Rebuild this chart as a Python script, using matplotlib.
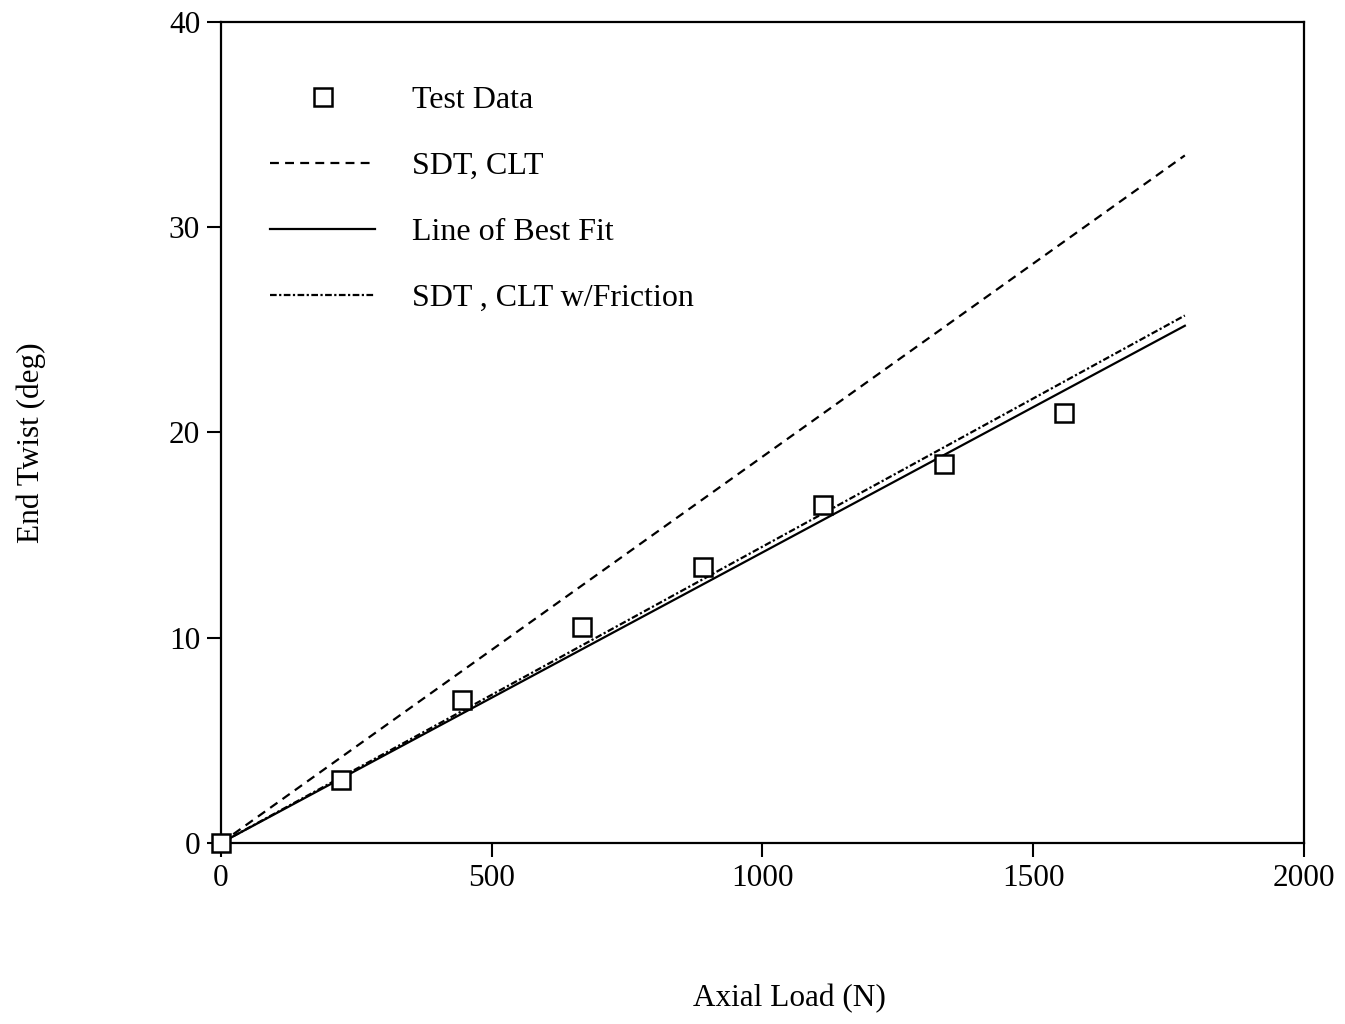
import matplotlib
matplotlib.use("Agg")
import matplotlib.pyplot as plt

plt.rcParams['font.family'] = ['Liberation Serif', 'DejaVu Serif']

# Measured end twist vs. axial load
load_test = [0, 222.4, 444.8, 667.2, 889.6, 1112.0, 1334.4, 1556.8]
twist_test = [0.0, 3.07, 6.97, 10.52, 13.45, 16.47, 18.47, 20.95]

# Predicted / fitted straight lines (start and end points)
load_line = [0, 1780]
twist_sdt_clt = [0.0, 33.5]
twist_best_fit = [0.0, 25.2]
twist_friction = [0.0, 25.7]

x_ticks = [0, 500, 1000, 1500, 2000]
y_ticks = [0, 10, 20, 30, 40]

fig = plt.figure(figsize=(13.45, 10.24), dpi=100)
ax = fig.add_axes([0.1643, 0.1768, 0.9695 - 0.1643, 0.9785 - 0.1768])

lw = 1.6
ax.plot(load_test, twist_test, linestyle='none', marker='s', markersize=12.5,
        markerfacecolor='white', markeredgecolor='black', markeredgewidth=1.8,
        label='Test Data', zorder=3, clip_on=False)
ax.plot(load_line, twist_sdt_clt, color='black', linewidth=lw,
        dashes=(4.0, 2.8), label='SDT, CLT')
ax.plot(load_line, twist_best_fit, color='black', linewidth=lw,
        linestyle='-', label='Line of Best Fit')
ax.plot(load_line, twist_friction, color='black', linewidth=lw,
        dashes=(3.0, 1.1, 1.0, 1.1), label='SDT , CLT w/Friction')

ax.set_xlim(0, 2000)
ax.set_ylim(0, 40)
ax.set_xticks(x_ticks)
ax.set_yticks(y_ticks)
ax.tick_params(direction='out', length=10, width=1.5, labelsize=22.5, pad=5)
for s in ax.spines.values():
    s.set_linewidth(1.6)

ax.set_xlabel('Axial Load (N)', fontsize=22.5)
ax.set_ylabel('End Twist (deg)', fontsize=22.5)
ax.xaxis.set_label_coords(0.525, -0.172)
ax.yaxis.set_label_coords(-0.162, 0.488)

leg = ax.legend(loc='upper left', bbox_to_anchor=(0.0452, 0.922),
                frameon=False, fontsize=23, handlelength=3.3,
                handletextpad=1.15, labelspacing=1.14, borderpad=0,
                borderaxespad=0, numpoints=1)

fig.savefig('out.png', dpi=100, facecolor='white')
